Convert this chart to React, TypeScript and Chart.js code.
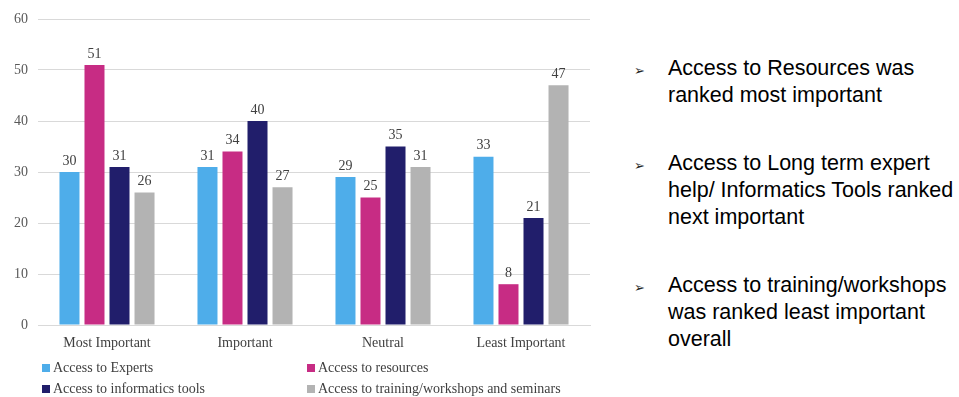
import React, { useEffect, useRef } from "react";
import { Chart, registerables } from "chart.js";

Chart.register(...registerables);

const categories = ["Most Important", "Important", "Neutral", "Least Important"];
const seriesNames = [
  "Access to Experts",
  "Access to resources",
  "Access to informatics tools",
  "Access to training/workshops and seminars",
];
const expertsValues = [30, 31, 29, 33];
const resourcesValues = [51, 34, 25, 8];
const toolsValues = [31, 40, 35, 21];
const trainingValues = [26, 27, 31, 47];
const seriesColors = ["#4EADEA", "#C72C84", "#211E6B", "#B3B3B3"];
const yTicks = [0, 10, 20, 30, 40, 50, 60];
const bullets = [
  ["Access to Resources was", "ranked most important"],
  ["Access to Long term expert", "help/ Informatics Tools ranked", "next important"],
  ["Access to training/workshops", "was ranked least important", "overall"],
];

const SERIF = "'Liberation Serif', 'Times New Roman', serif";

const valueLabels = {
  id: "valueLabels",
  afterDatasetsDraw(chart: any) {
    const ctx = chart.ctx;
    ctx.save();
    ctx.font = `14px ${SERIF}`;
    ctx.fillStyle = "#404040";
    ctx.textAlign = "center";
    ctx.textBaseline = "bottom";
    chart.data.datasets.forEach((ds: any, i: number) => {
      const meta = chart.getDatasetMeta(i);
      meta.data.forEach((bar: any, j: number) => {
        ctx.fillText(String(ds.data[j]), bar.x, bar.y - 4);
      });
    });
    ctx.restore();
  },
};

export default function App() {
  const ref = useRef<HTMLCanvasElement>(null);
  useEffect(() => {
    const allSeries = [expertsValues, resourcesValues, toolsValues, trainingValues];
    const chart = new Chart(ref.current!, {
      type: "bar",
      data: {
        labels: categories,
        datasets: allSeries.map((d, i) => ({
          label: seriesNames[i],
          data: d,
          backgroundColor: seriesColors[i],
          borderWidth: 0,
          barPercentage: 0.8,
          categoryPercentage: 0.725,
        })),
      },
      options: {
        animation: false,
        responsive: false,
        maintainAspectRatio: false,
        layout: { padding: { top: 19, right: 10, bottom: 42, left: 0 } },
        plugins: { legend: { display: false }, tooltip: { enabled: false } },
        scales: {
          x: {
            grid: { display: false, drawTicks: false },
            border: { display: true, color: "#d9d9d9", width: 1 },
            ticks: { color: "#404040", font: { family: SERIF, size: 14 }, padding: 10 },
            afterFit: (s: any) => { s.height = 30; },
          },
          y: {
            min: 0,
            max: 60,
            afterBuildTicks: (s: any) => { s.ticks = yTicks.map((v) => ({ value: v })); },
            grid: { color: "#d9d9d9", drawTicks: false },
            border: { display: false },
            ticks: { color: "#595959", font: { family: SERIF, size: 14 }, padding: 10 },
            afterFit: (s: any) => { s.width = 38; },
          },
        },
      },
      plugins: [valueLabels],
    });
    return () => chart.destroy();
  }, []);

  const legendPos = [
    { left: 42, top: 368 },
    { left: 307, top: 368 },
    { left: 42, top: 389 },
    { left: 307, top: 389 },
  ];

  return (
    <div style={{ position: "fixed", left: 0, top: 0, width: 959, height: 397, background: "#fff", overflow: "hidden" }}>
      <canvas ref={ref} width={600} height={397} style={{ position: "absolute", left: 0, top: 0, width: 600, height: 397 }} />
      {seriesNames.map((n, i) => (
        <div
          key={n}
          style={{
            position: "absolute",
            left: legendPos[i].left,
            top: legendPos[i].top - 9,
            height: 18,
            display: "flex",
            alignItems: "center",
            fontFamily: SERIF,
            fontSize: 14,
            color: "#404040",
            whiteSpace: "nowrap",
          }}
        >
          <span style={{ display: "inline-block", width: 8, height: 8, background: seriesColors[i], marginRight: 3 }} />
          {n}
        </div>
      ))}
      {bullets.map((lines, i) => (
        <div
          key={i}
          style={{
            position: "absolute",
            left: 630,
            top: [54.5, 149.5, 271.5][i],
            fontFamily: "'Liberation Sans', Arial, sans-serif",
            fontSize: 21.5,
            lineHeight: "27px",
            color: "#000",
            whiteSpace: "nowrap",
          }}
        >
          <span style={{ position: "absolute", left: 4, top: 2, fontFamily: "'DejaVu Sans'", fontSize: 13, color: "#222" }}>➢</span>
          <div style={{ marginLeft: 38 }}>
            {lines.map((l, k) => (
              <div key={k}>{l}</div>
            ))}
          </div>
        </div>
      ))}
    </div>
  );
}
